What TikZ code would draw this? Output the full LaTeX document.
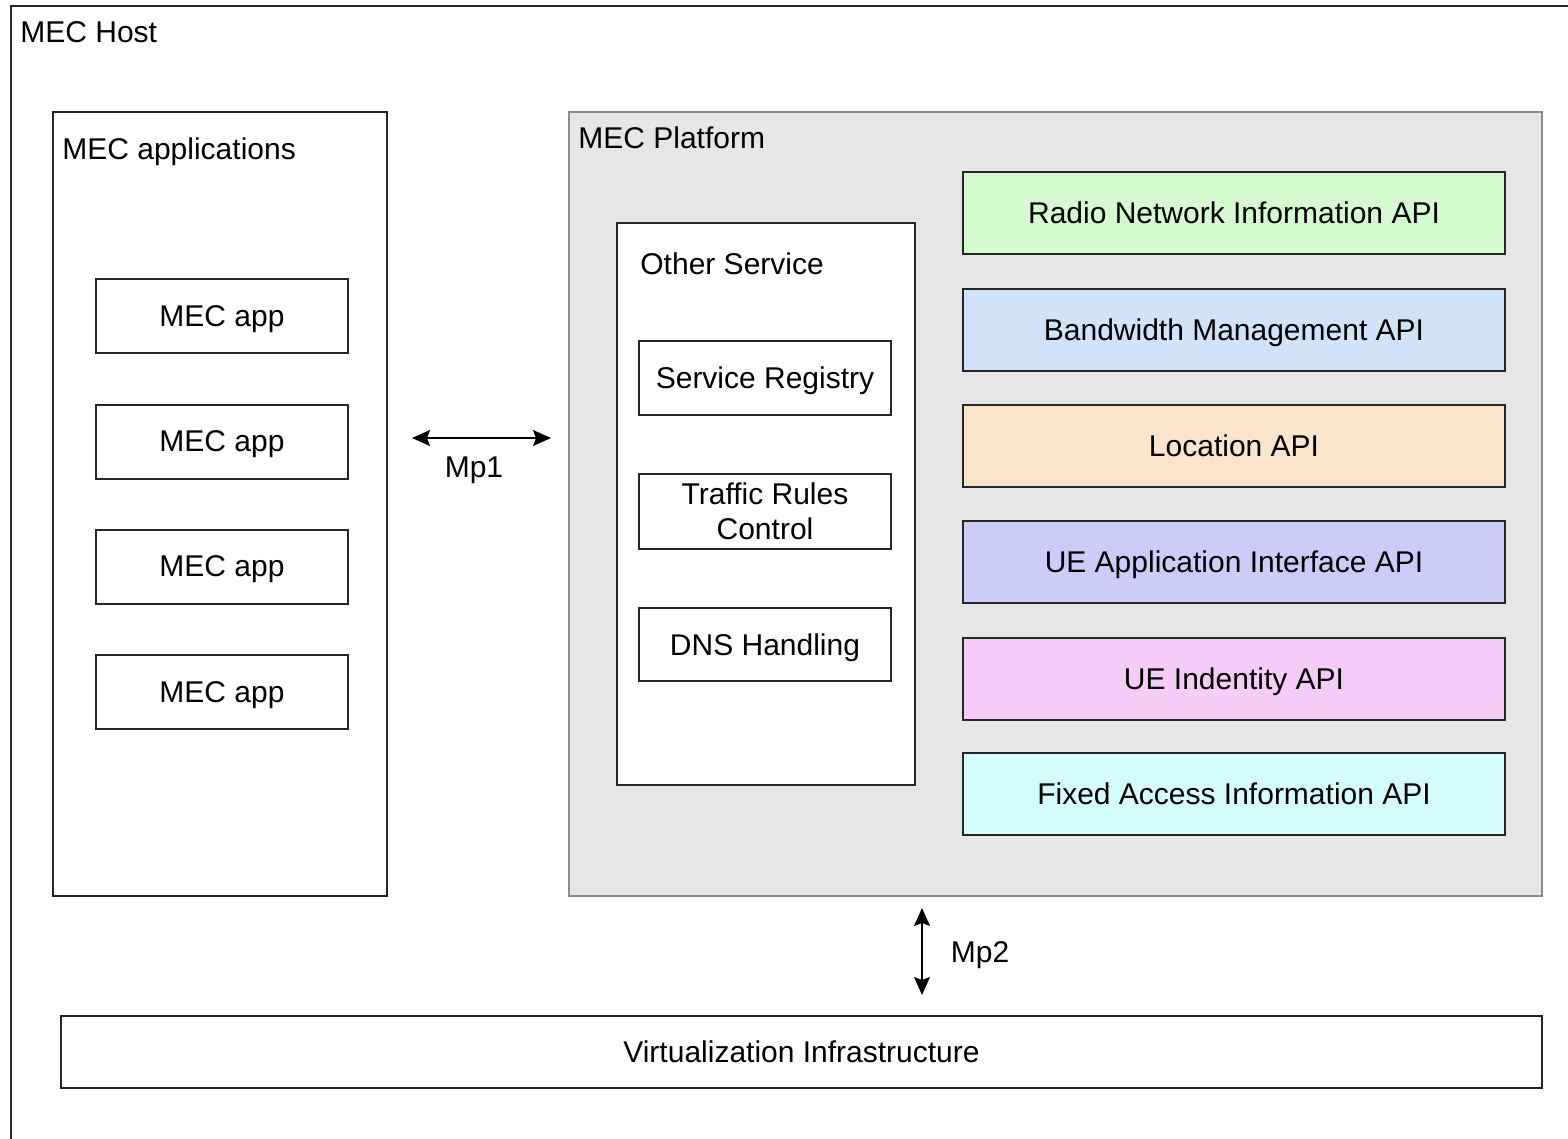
\documentclass[tikz,border=0pt]{standalone}
\usepackage{fontspec}
\setmainfont{Liberation Sans}
\usetikzlibrary{arrows.meta,positioning}

\definecolor{rnigreen}{RGB}{214,250,208}
\definecolor{bwmblue}{RGB}{208,227,248}
\definecolor{locorange}{RGB}{250,228,204}
\definecolor{uealilac}{RGB}{204,204,249}
\definecolor{ueipink}{RGB}{245,204,248}
\definecolor{faicyan}{RGB}{212,252,252}
\definecolor{platgray}{RGB}{230,230,230}
\newcommand{\mecfont}{\fontsize{15}{17.5}\selectfont}

\begin{document}
\begin{tikzpicture}[x=0.5pt,y=0.5pt,yscale=-1,xscale=1,
  sized/.style 2 args={minimum width=#1*0.5pt,minimum height=#2*0.5pt},
  box/.style={draw=black!85,line width=1pt,inner sep=0pt,font=\mecfont,align=center,text depth=0pt},
  apibox/.style={box,sized={542}{82},fill=#1},
  lbl/.style={inner sep=0pt,font=\mecfont,anchor=base west},
  biarrow/.style={{Stealth[length=9pt,width=8pt,inset=1.5pt]}-{Stealth[length=9pt,width=8pt,inset=1.5pt]},line width=0.7pt,black}]
\useasboundingbox (0,0) rectangle (1568,1139);
\clip (0,0) rectangle (1568,1139);

%Shape: Rectangle (host, runs past the page)
\node [box,sized={1640}{1200},anchor=north west] (host) at (10,5) {};
\node [lbl] (hostlbl) at (20,43) {MEC Host};

%MEC applications
\node [box,sized={334}{784}] (apps) at (220,504) {};
\node [lbl] (appslbl) at (62,160) {MEC applications};
\node [box,sized={252}{74}] (app1) at (222,316) {MEC app};
\node [box,sized={252}{74}] (app2) at (222,441.5) {MEC app};
\node [box,sized={252}{74}] (app3) at (222,566.5) {MEC app};
\node [box,sized={252}{74}] (app4) at (222,692) {MEC app};

%MEC Platform
\node [box,sized={973}{784},draw=black!45,fill=platgray] (platform) at (1055.5,504) {};
\node [lbl] (platlbl) at (578,149) {MEC Platform};

%Other Service
\node [box,sized={298}{562},fill=white] (other) at (766,504) {};
\node [lbl] (otherlbl) at (640,274) {Other Service};
\node [box,sized={252}{74},fill=white] (registry) at (765,378) {Service Registry};
\node [box,sized={252}{75},fill=white] (traffic) at (765,511.5) {Traffic Rules\\Control};
\node [box,sized={252}{73},fill=white] (dns) at (765,644.5) {DNS Handling};

%APIs
\node [apibox=rnigreen] (rni) at (1234,213) {Radio Network Information API};
\node [apibox=bwmblue] (bwm) at (1234,329.5) {Bandwidth Management API};
\node [apibox=locorange] (loc) at (1234,446) {Location API};
\node [apibox=uealilac] (uea) at (1234,562) {UE Application Interface API};
\node [apibox=ueipink] (uei) at (1234,679) {UE Indentity API};
\node [apibox=faicyan] (fai) at (1234,794) {Fixed Access Information API};

%Virtualization Infrastructure
\node [box,sized={1481}{72}] (virt) at (801.5,1052) {Virtualization Infrastructure};

%Mp1 and Mp2
\coordinate (mp1l) at (412,438);
\coordinate (mp1r) at (551,438);
\draw [biarrow] (mp1l) -- (mp1r);
\node [font=\mecfont,inner sep=0pt] (mp1) at (474,470) {Mp1};
\coordinate (mp2t) at (922,908);
\coordinate (mp2b) at (922,995);
\draw [biarrow] (mp2t) -- (mp2b);
\node [font=\mecfont,inner sep=0pt] (mp2) at (980,955) {Mp2};
\end{tikzpicture}
\end{document}
